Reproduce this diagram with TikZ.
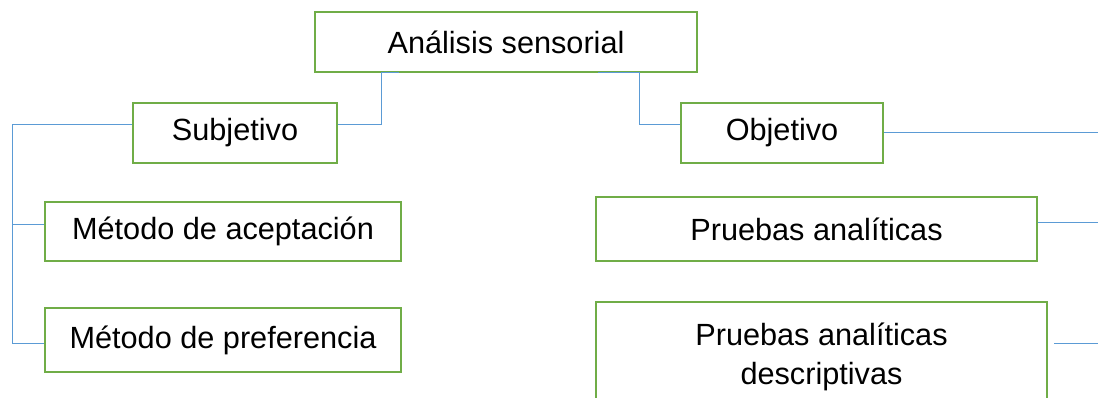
\documentclass[tikz,border=0pt]{standalone}
\usepackage{fontspec}
\setmainfont{Liberation Sans}
\definecolor{saGreen}{RGB}{112,173,71}
\definecolor{saBlue}{RGB}{91,155,213}
\tikzset{
    base/.style={font=\fontsize{23}{29}\selectfont, align=center},
    box/.style={base, rectangle, draw=saGreen, line width=1.5pt, fill=white, inner sep=0pt},
    link/.style={draw=saBlue, line width=0.75pt}
}

\begin{document}
\begin{tikzpicture}[x=0.75pt,y=-0.75pt]
  % Frame of the picture
  \clip (0,0) rectangle (1098,398);

  % Root
  \node[box, minimum width=286.5pt, minimum height=45pt] (root) at (506,42) {Análisis sensorial};

  % Left branch
  \node[box, minimum width=153pt, minimum height=45pt] (subj) at (235,133) {Subjetivo};
  \node[box, minimum width=267pt, minimum height=44.25pt] (acep) at (223,231.5) {Método de aceptación};
  \node[box, minimum width=267pt, minimum height=48pt] (pref) at (223,340) {Método de preferencia};

  % Right branch
  \node[box, minimum width=151.5pt, minimum height=45pt] (obj) at (782,133) {Objetivo};
  \node[box, minimum width=330.75pt, minimum height=48pt] (pa) at (816.5,229) {Pruebas analíticas};
  \node[box, minimum width=338.25pt, minimum height=82.5pt] (pad) at (821.5,357) {Pruebas analíticas\\descriptivas};

  % Free ends of the connectors
  \coordinate (subjTrunk) at (12.5,125);
  \coordinate (objEnd) at (1100,133);
  \coordinate (paEnd) at (1100,223);
  \coordinate (padEnd) at (1100,344);

  % Connectors
  \draw[link] ([xshift=63.75pt]root.south west) -- ([xshift=50.25pt]root.south west) |- ([yshift=6pt]subj.east);
  \draw[link] ([xshift=-75pt]root.south east) -- ([xshift=-44.25pt]root.south east) |- ([yshift=6pt]obj.west);
  \draw[link] ([yshift=6pt]subj.west) -- (subjTrunk) |- ([yshift=4.875pt]acep.west);
  \draw[link] (subjTrunk) |- ([yshift=-3pt]pref.west);
  \draw[link] (obj.east) -- (objEnd);
  \draw[link] ([yshift=4.5pt]pa.east) -- (paEnd);
  \draw[link] ([xshift=4.5pt,yshift=9.75pt]pad.east) -- (padEnd);
\end{tikzpicture}
\end{document}
